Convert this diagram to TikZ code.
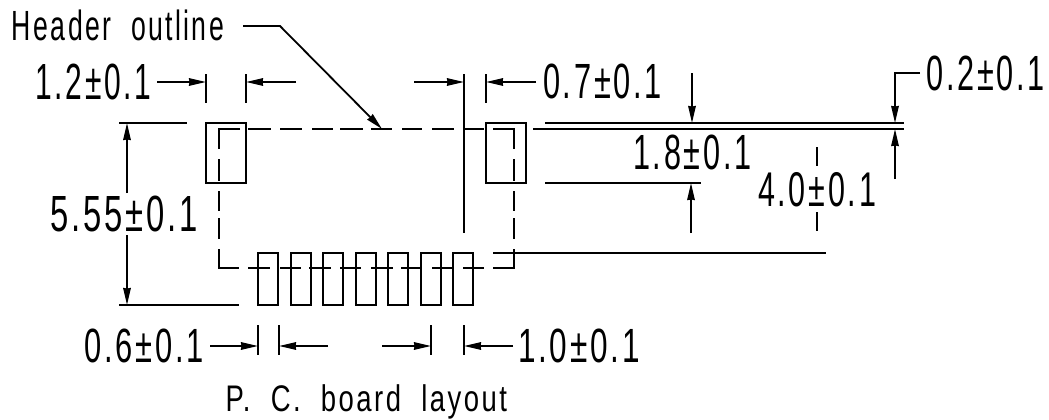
\documentclass[tikz,border=0pt]{standalone}
\usepackage{fontspec}
\usepackage{graphicx}
\setmainfont[LetterSpace=9]{Liberation Sans}
\usetikzlibrary{arrows.meta}
\tikzset{
  ln/.style={line width=1.8pt,black,line cap=butt},
  dimarrow/.style={ln,-{Stealth[length=17pt,width=7.5pt,inset=0.5pt]}},
  lab/.style={inner sep=0pt,outer sep=0pt,anchor=north west,text=black},
}
% name, x0, ytop, width, height, text
\newcommand{\lab}[6]{\node[lab] (#1) at (#2,#3) {\resizebox*{#4pt}{#5pt}{#6}};}
\begin{document}
\begin{tikzpicture}[x=1pt,y=-1pt]
\useasboundingbox (0,0) rectangle (1049,420);
% texts
\lab{hdr}{12}{10}{212}{31}{Header\ \ outline}
\lab{d12}{35.5}{64}{116}{36}{1.2±0.1}
\lab{d07}{543}{64}{119}{35}{0.7±0.1}
\lab{d02}{926.4}{56}{118.6}{35}{0.2±0.1}
\lab{d18}{633}{135}{118.4}{35}{1.8±0.1}
\lab{d40}{758}{172}{118}{34.5}{4.0±0.1}
\lab{d555}{50}{196}{148}{36}{5.55±0.1}
\lab{d06}{84.5}{329}{119.5}{34}{0.6±0.1}
\lab{d10}{518}{329}{122}{34}{1.0±0.1}
\lab{pcb}{225.7}{385}{281.3}{34.5}{P.\ \ C.\ \ board\ \ layout}
% pads
\draw[ln] (206,123) rectangle (246,183);
\draw[ln] (486,123) rectangle (526,183);
\foreach \a in {258,291,323,356,388,421,453}
  \draw[ln] (\a,253) rectangle ({\a+20},305);
% dashed outline: top
\foreach \a/\b in {248/271,280/302,312/333,340/363,371/392,402/422,432/454,463/484}
  \draw[ln] (\a,129) -- (\b,129);
% bottom
\foreach \a/\b in {248/270,280/301,309/331,340/361,371/393,401/422,432/453,463/484}
  \draw[ln] (\a,268) -- (\b,268);
% corners
\draw[ln] (240,129) -- (219,129) -- (219,149);
\draw[ln] (493,129) -- (514,129) -- (514,149);
\draw[ln] (219,249) -- (219,268) -- (239,268);
\draw[ln] (514,249) -- (514,268) -- (493,268);
% dashed outline: sides
\foreach \x in {219,514}
  \foreach \a/\b in {159/181,191/211,218/239}
    \draw[ln] (\x,\a) -- (\x,\b);
% header leader
\draw[dimarrow] (243,26) -- (280,26) -- (382,129);
% 1.2 dim
\draw[ln] (206,74) -- (206,103);
\draw[ln] (246,74) -- (246,103);
\draw[dimarrow] (157,82) -- (206,82);
\draw[dimarrow] (296,82) -- (246,82);
% 0.7 dim
\draw[ln] (464,74) -- (464,233);
\draw[ln] (486,74) -- (486,103);
\draw[dimarrow] (414,82) -- (464,82);
\draw[dimarrow] (536,82) -- (486,82);
% 5.55 dim
\draw[ln] (119,123) -- (187,123);
\draw[ln] (119,305) -- (239,305);
\draw[dimarrow] (127,193) -- (127,123);
\draw[dimarrow] (127,235) -- (127,305);
% bottom pin dims
\foreach \x in {258,279,431,464}
  \draw[ln] (\x,325) -- (\x,355);
\draw[dimarrow] (210,346) -- (258,346);
\draw[dimarrow] (328,346) -- (279,346);
\draw[dimarrow] (382,346) -- (431,346);
\draw[dimarrow] (513,346) -- (464,346);
% right side lines
\draw[ln] (545,123) -- (904,123);
\draw[ln] (533,129) -- (904,129);
\draw[ln] (545,183) -- (701,183);
\draw[ln] (493,253) -- (826,253);
% 1.8 dim
\draw[dimarrow] (692,73) -- (692,123);
\draw[dimarrow] (691,233) -- (691,183);
% 0.2 dim
\draw[dimarrow] (920,73) -- (895,73) -- (895,123);
\draw[dimarrow] (895,179) -- (895,129);
% 4.0 dim
\draw[ln] (817,147) -- (817,166);
\draw[ln] (817,212) -- (817,231);
\end{tikzpicture}
\end{document}
